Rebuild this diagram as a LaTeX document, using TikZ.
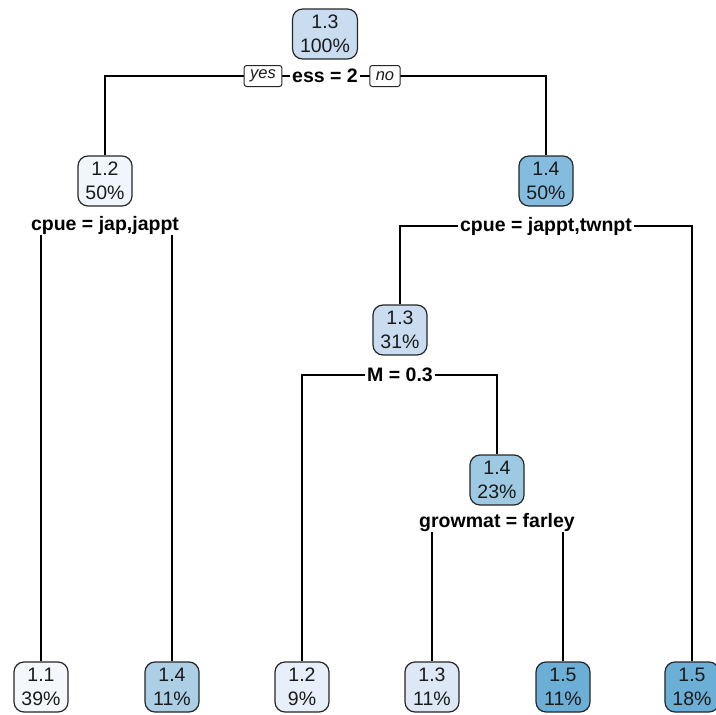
\documentclass[tikz,border=0pt]{standalone}
\usepackage{fontspec}
\setmainfont{Liberation Sans}
\usetikzlibrary{backgrounds}
\definecolor{cA}{HTML}{F4F8FD}
\definecolor{cB}{HTML}{F0F6FC}
\definecolor{cC}{HTML}{E7F0FA}
\definecolor{cD}{HTML}{DCE8F5}
\definecolor{cE}{HTML}{C9DCF0}
\definecolor{cF}{HTML}{ACCFE6}
\definecolor{cG}{HTML}{9DC9E2}
\definecolor{cH}{HTML}{84BCDF}
\definecolor{cI}{HTML}{6BAED6}
\definecolor{txt}{HTML}{1A1A1A}
\definecolor{bord}{HTML}{262626}
\begin{document}
\begin{tikzpicture}[x=1pt,y=-1pt,
  box/.style={draw=bord, line width=1.2pt, rounded corners=10pt, minimum width=54pt, minimum height=50pt,
    inner xsep=7.5pt, align=center, text=txt, font=\fontsize{19.5}{24}\selectfont},
  splitlab/.style={fill=white, inner xsep=2.5pt, inner ysep=1pt, text=black,
    font=\fontsize{19.5}{22}\selectfont\bfseries},
  yn/.style={draw=bord, line width=1pt, fill=white, rounded corners=2.5pt, minimum height=21pt,
    inner xsep=6pt, inner ysep=1pt, text=txt, font=\fontsize{16.5}{18}\selectfont\itshape},
  edge/.style={line width=1.6pt, draw=black}]
\useasboundingbox (0,0) rectangle (716,715);
% internal nodes
\node[box, fill=cE] (n1) at (325,34) {1.3\\100\%};
\node[box, fill=cB] (n2) at (105,181) {1.2\\50\%};
\node[box, fill=cH] (n3) at (546,181) {1.4\\50\%};
\node[box, fill=cE] (n4) at (400,330) {1.3\\31\%};
\node[box, fill=cG] (n5) at (497,480) {1.4\\23\%};
% leaves
\node[box, fill=cA] (l1) at (41,687) {1.1\\39\%};
\node[box, fill=cF] (l2) at (172,687) {1.4\\11\%};
\node[box, fill=cC] (l3) at (302,687) {1.2\\9\%};
\node[box, fill=cD] (l4) at (432,687) {1.3\\11\%};
\node[box, fill=cI] (l5) at (563,687) {1.5\\11\%};
\node[box, fill=cI] (l6) at (692,687) {1.5\\18\%};
% split labels
\node[splitlab] (s1) at (325,76) {ess = 2};
\node[splitlab] (s2) at (105,225) {cpue = jap,jappt};
\node[splitlab] (s3) at (546,226) {cpue = jappt,twnpt};
\node[splitlab] (s4) at (400,375) {M = 0.3};
\node[splitlab] (s5) at (497,522) {growmat = farley};
\node[yn] (yes) at (263,76) {yes};
\node[yn] (no) at (385,76) {no};
% connectors
\begin{pgfonlayer}{background}
\draw[edge] (n2.north) |- (s1.center) -| (n3.north);
\draw[edge] (l1.north) |- (s2.center) -| (l2.north);
\draw[edge] (n4.north) |- (s3.center) -| (l6.north);
\draw[edge] (l3.north) |- (s4.center) -| (n5.north);
\draw[edge] (l4.north) |- (s5.center) -| (l5.north);
\end{pgfonlayer}
\end{tikzpicture}
\end{document}
